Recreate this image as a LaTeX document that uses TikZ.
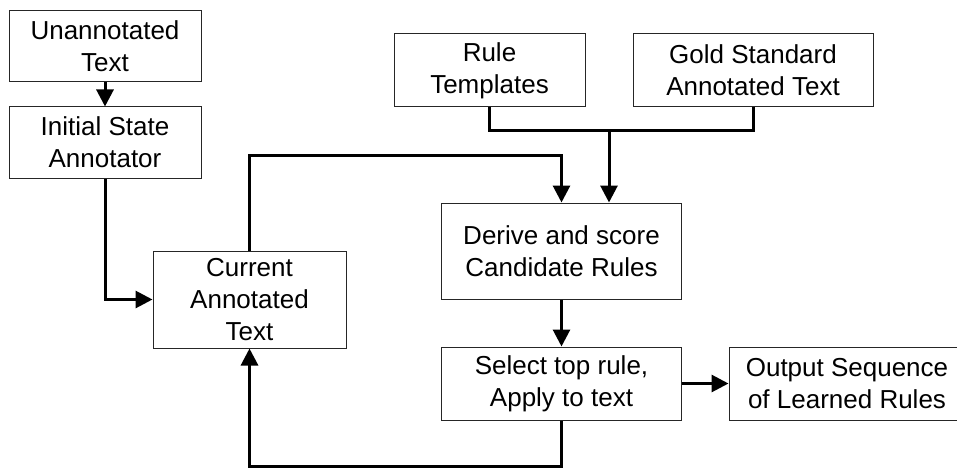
\documentclass[tikz,border=0pt]{standalone}
\usepackage{fontspec}
\setmainfont{Liberation Sans}
\usetikzlibrary{arrows.meta}

\tikzset{
  stepbox/.style={draw=black!85, line width=1pt, inner sep=0pt, align=center,
    font=\fontsize{26}{32}\selectfont},
  link/.style={line width=3pt, draw=black},
  arr/.style={link, -{Triangle[length=17pt,width=17pt]}}
}

\begin{document}
\begin{tikzpicture}[x=1pt,y=-1pt]
  \useasboundingbox (0,0) rectangle (957,468);
  \begin{scope}
  \clip (0,0) rectangle (957,468);

  % left column: input and initial annotation
  \node[stepbox, minimum width=192pt, minimum height=71pt] (A) at (105,46.5) {Unannotated\\Text};
  \node[stepbox, minimum width=192pt, minimum height=71pt] (B) at (105,142.5) {Initial State\\Annotator};
  \node[stepbox, minimum width=193pt, minimum height=97pt] (C) at (249.5,299.5) {Current\\Annotated\\Text};

  % top row: learning resources
  \node[stepbox, minimum width=191pt, minimum height=73pt] (RT) at (489.5,70.5) {Rule\\Templates};
  \node[stepbox, minimum width=240pt, minimum height=73pt] (G) at (753,70.5) {Gold Standard\\Annotated Text};

  % learning loop
  \node[stepbox, minimum width=240pt, minimum height=96pt] (D) at (561.5,251) {Derive and score\\Candidate Rules};
  \node[stepbox, minimum width=240pt, minimum height=73pt] (S) at (561.5,383.5) {Select top rule,\\Apply to text};
  \node[stepbox, minimum width=236pt, minimum height=73pt] (O) at (847,383.5) {Output Sequence\\of Learned Rules};

  % rails used by the elbow connectors
  \coordinate (topRail) at (400,155);
  \coordinate (joinRail) at (609,130);
  \coordinate (botRail) at (400,466);

  \draw[arr] (A) -- (B);
  \draw[arr] (B.south) |- (C.west);
  \draw[arr] (C.north) |- (topRail) -| (D.north);
  \draw[link] (RT.south) |- (joinRail);
  \draw[link] (G.south) |- (joinRail);
  \draw[arr] (joinRail) -- (joinRail |- D.north);
  \draw[arr] (D) -- (S);
  \draw[arr] (S) -- (O);
  \draw[arr] (S.south) |- (botRail) -| (C.south);
  \end{scope}
\end{tikzpicture}
\end{document}
